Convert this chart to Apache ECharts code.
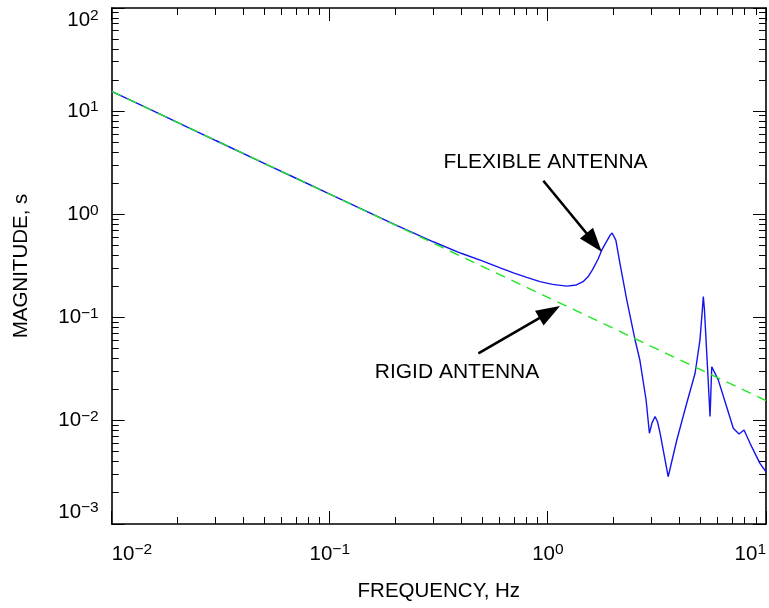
<!DOCTYPE html>
<html><head><meta charset="utf-8">
<script src="https://cdn.jsdelivr.net/npm/echarts@6/dist/echarts.min.js"></script>
<style>html,body{margin:0;padding:0;background:#fff}#c{width:769px;height:608px}</style>
</head><body><div id="c"></div>
<script>
// ---- data ----
const freqFlex = [0.01, 0.015, 0.02, 0.03, 0.05, 0.07, 0.1, 0.15, 0.2, 0.3, 0.4, 0.5, 0.6, 0.7, 0.8, 0.92, 1.05, 1.22, 1.35, 1.45, 1.53, 1.6, 1.7, 1.765, 1.87, 1.93, 1.97, 2.01, 2.05, 2.1, 2.14, 2.3, 2.51, 2.64, 2.82, 2.92, 3.0, 3.1, 3.18, 3.27, 3.56, 3.9, 4.33, 4.73, 4.98, 5.1, 5.16, 5.22, 5.29, 5.54, 5.64, 5.73, 6.04, 6.6, 7.08, 7.52, 7.93, 8.45, 9.38, 10];
const magFlex  = [15.6, 10.4, 7.8, 5.2, 3.13, 2.24, 1.57, 1.05, 0.79, 0.54, 0.42, 0.355, 0.305, 0.27, 0.245, 0.223, 0.21, 0.202, 0.207, 0.223, 0.25, 0.29, 0.37, 0.45, 0.56, 0.63, 0.66, 0.645, 0.56, 0.42, 0.336, 0.148, 0.0607, 0.0388, 0.0159, 0.00757, 0.0095, 0.011, 0.0098, 0.00757, 0.00287, 0.00652, 0.0148, 0.0289, 0.0607, 0.115, 0.160, 0.12, 0.071, 0.011, 0.0334, 0.0347, 0.0249, 0.0137, 0.00846, 0.00745, 0.00814, 0.00605, 0.00387, 0.00321];
const freqRigid = [0.01, 0.1, 1, 10];
const magRigid  = [15.6, 1.57, 0.157, 0.0157];

const xMajorTicks = [0.01, 0.1, 1, 10];
const xMinorTicks = [0.02, 0.03, 0.04, 0.05, 0.06, 0.07, 0.08, 0.09, 0.2, 0.3, 0.4, 0.5, 0.6, 0.7, 0.8, 0.9, 2, 3, 4, 5, 6, 7, 8, 9];
const yMajorTicks = [0.001, 0.01, 0.1, 1, 10, 100];
const yMinorTicks = [0.002, 0.003, 0.004, 0.005, 0.006, 0.007, 0.008, 0.009, 0.02, 0.03, 0.04, 0.05, 0.06, 0.07, 0.08, 0.09, 0.2, 0.3, 0.4, 0.5, 0.6, 0.7, 0.8, 0.9, 2, 3, 4, 5, 6, 7, 8, 9, 20, 30, 40, 50, 60, 70, 80, 90];

const xTitle = 'FREQUENCY, Hz';
const yTitle = 'MAGNITUDE, s';
const labelTexts = ['FLEXIBLE ANTENNA', 'RIGID ANTENNA'];
const labelPos = [[0.975, 3.18], [0.383, 0.0297]];
const arrowFrom = [[0.953, 2.12], [0.480, 0.0451]];
const arrowTip = [[1.765, 0.435], [1.137, 0.1295]];

// ---- chart ----
const FONT = '"Liberation Sans", Arial, Helvetica, sans-serif';
const X_MIN = xMajorTicks[0], X_MAX = xMajorTicks[xMajorTicks.length - 1];
const Y_MIN = yMajorTicks[0], Y_MAX = yMajorTicks[yMajorTicks.length - 1];
const MAJOR_LEN = 13, MINOR_LEN = 7;
const chart = echarts.init(document.getElementById('c'), null, {renderer: 'canvas'});

function powLabel(v) {
  const e = Math.round(Math.log10(v));
  const s = e < 0 ? '\u2212' + (-e) : String(e);
  return '{b|10}{s|' + s + '}';
}
const richLab = {
  b: {fontSize: 20.5, fontFamily: FONT, color: '#000', lineHeight: 24, verticalAlign: 'middle'},
  s: {fontSize: 15.5, fontFamily: FONT, color: '#000', lineHeight: 11, verticalAlign: 'top'}
};

function mkAxis(dim, pos, withLabel) {
  const isX = dim === 'x';
  const a = {
    type: 'log', logBase: 10,
    min: isX ? X_MIN : Y_MIN, max: isX ? X_MAX : Y_MAX,
    position: pos,
    axisLine: {show: true, onZero: false, lineStyle: {color: '#000', width: 1.6}},
    axisTick: {show: false},
    splitLine: {show: false},
    minorTick: {show: false}, minorSplitLine: {show: false},
    axisLabel: {show: false},
    silent: true
  };
  if (withLabel) {
    a.axisLabel = {
      show: true, customValues: isX ? xMajorTicks : yMajorTicks,
      formatter: powLabel, rich: richLab,
      margin: isX ? 18 : 13,
      showMinLabel: true, showMaxLabel: true,
      hideOverlap: false
    };
    if (isX) { a.axisLabel.alignMinLabel = 'left'; a.axisLabel.alignMaxLabel = 'right'; }
    else { a.axisLabel.verticalAlignMinLabel = 'bottom'; a.axisLabel.verticalAlignMaxLabel = 'top'; }
    a.name = isX ? xTitle : yTitle;
    a.nameLocation = 'middle';
    a.nameGap = isX ? 57 : 80;
    a.nameTextStyle = {fontSize: 20.5, fontFamily: FONT, color: '#000'};
  }
  return a;
}

// all tick marks drawn in one render call, each placed through the axes' scales
function tickRect(x, y, w, h) {
  return {type: 'rect', shape: {x: x, y: y, width: w, height: h}, style: {fill: '#000'}};
}
function renderAllTicks(params, api) {
  const children = [];
  const bl = api.coord([X_MIN, Y_MIN]);
  const tr = api.coord([X_MAX, Y_MAX]);
  const left = bl[0], bottom = bl[1], right = tr[0], top = tr[1];
  function addX(v, len) {
    const p = api.coord([v, Y_MIN]);
    if (!p || !isFinite(p[0])) return;
    const x = Math.round(p[0] - 0.5);
    children.push(tickRect(x, bottom - len, 1, len));
    children.push(tickRect(x, top, 1, len));
  }
  function addY(v, len) {
    const p = api.coord([X_MIN, v]);
    if (!p || !isFinite(p[1])) return;
    const y = Math.round(p[1] - 0.5);
    children.push(tickRect(left, y, len, 1));
    children.push(tickRect(right - len, y, len, 1));
  }
  xMajorTicks.forEach(v => addX(v, MAJOR_LEN));
  xMinorTicks.forEach(v => addX(v, MINOR_LEN));
  yMajorTicks.forEach(v => addY(v, MAJOR_LEN));
  yMinorTicks.forEach(v => addY(v, MINOR_LEN));
  return {type: 'group', children: children};
}

const option = {
  backgroundColor: '#fff',
  animation: false,
  grid: {left: 111.7, right: 3, top: 8, bottom: 84, containLabel: false, outerBoundsMode: 'none'},
  xAxis: [mkAxis('x', 'bottom', true), mkAxis('x', 'top', false)],
  yAxis: [mkAxis('y', 'left', true), mkAxis('y', 'right', false)],
  series: [
    {
      type: 'line', name: 'flexible', xAxisIndex: 0, yAxisIndex: 0,
      data: freqFlex.map((f, i) => [f, magFlex[i]]),
      showSymbol: false, symbol: 'none', smooth: false,
      lineStyle: {color: '#1414f0', width: 1.4},
      silent: true, z: 2
    },
    {
      type: 'line', name: 'rigid', xAxisIndex: 0, yAxisIndex: 0,
      data: freqRigid.map((f, i) => [f, magRigid[i]]),
      showSymbol: false, symbol: 'none',
      lineStyle: {color: '#22e622', width: 1.4, type: [10, 7]},
      silent: true, z: 3
    },
    {
      type: 'custom', name: 'ticks', xAxisIndex: 0, yAxisIndex: 0, silent: true, z: 4,
      data: [[X_MIN, Y_MIN]], encode: {x: 0, y: 1}, renderItem: renderAllTicks
    },
    {
      type: 'custom', name: 'arrows', xAxisIndex: 0, yAxisIndex: 0, silent: true, z: 5,
      data: arrowFrom.map((a, i) => [a[0], a[1], arrowTip[i][0], arrowTip[i][1]]),
      encode: {x: [0, 2], y: [1, 3]},
      renderItem: function (params, api) {
        const p1 = api.coord([api.value(0), api.value(1)]);
        const p2 = api.coord([api.value(2), api.value(3)]);
        const dx = p2[0] - p1[0], dy = p2[1] - p1[1];
        const L = Math.sqrt(dx * dx + dy * dy), ux = dx / L, uy = dy / L;
        const hl = 24, hw = 8.5;
        const bx = p2[0] - ux * hl, by = p2[1] - uy * hl;
        return {type: 'group', children: [
          {type: 'line', shape: {x1: p1[0], y1: p1[1], x2: bx + ux * 2, y2: by + uy * 2}, style: {stroke: '#000', lineWidth: 2.6}},
          {type: 'polygon', shape: {points: [[p2[0], p2[1]], [bx - uy * hw, by + ux * hw], [bx + uy * hw, by - ux * hw]]}, style: {fill: '#000'}}
        ]};
      }
    },
    {
      type: 'custom', name: 'labels', xAxisIndex: 0, yAxisIndex: 0, silent: true, z: 6,
      data: labelPos.map(p => [p[0], p[1]]),
      encode: {x: 0, y: 1},
      renderItem: function (params, api) {
        const p = api.coord([api.value(0), api.value(1)]);
        return {type: 'text', x: p[0], y: p[1], style: {
          text: labelTexts[params.dataIndex], fill: '#000',
          font: '21px ' + FONT, align: 'center', verticalAlign: 'middle',
          textAlign: 'center', textVerticalAlign: 'middle'
        }};
      }
    }
  ]
};
chart.setOption(option);
</script></body></html>
